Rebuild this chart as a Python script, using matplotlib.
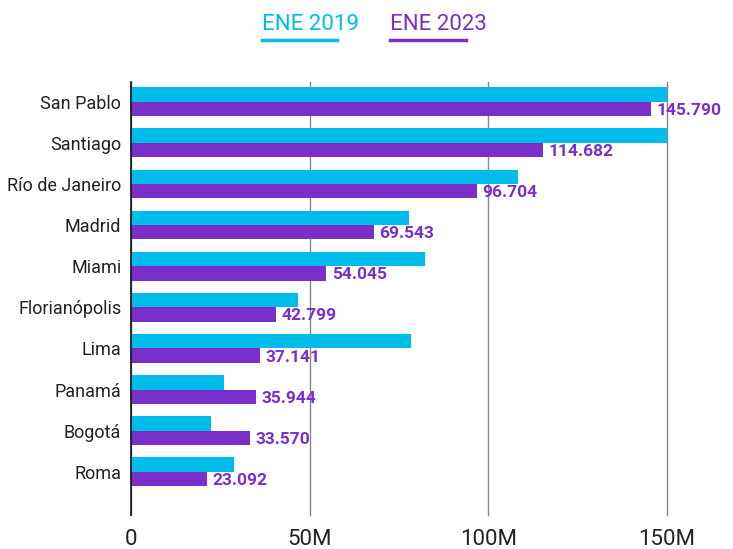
import matplotlib
matplotlib.use('Agg')
import matplotlib.pyplot as plt
from matplotlib.lines import Line2D

plt.rcParams['font.family'] = ['Roboto', 'DejaVu Sans']

cities = ['San Pablo', 'Santiago', 'Río de Janeiro', 'Madrid', 'Miami',
          'Florianópolis', 'Lima', 'Panamá', 'Bogotá', 'Roma']
# bar lengths (millions); first two run past the 150M edge
ene_2019 = [152.0, 151.0, 108.3, 77.9, 82.4, 46.8, 78.4, 25.9, 22.3, 28.8]
ene_2023 = [145.4, 115.2, 96.8, 67.9, 54.7, 40.6, 36.0, 35.0, 33.2, 21.3]
labels_2023 = ['145.790', '114.682', '96.704', '69.543', '54.045',
               '42.799', '37.141', '35.944', '33.570', '23.092']
ticks = [0, 50, 100, 150]
tick_labels = ['0', '50M', '100M', '150M']

cyan = '#00BCEA'
purple = '#7B2FC9'

fig = plt.figure(figsize=(7.33, 5.49), dpi=100)
ax = fig.add_axes([131 / 733, 34 / 549, 536 / 733, 433 / 549])

h = 0.35
y = list(range(len(cities)))
ax.barh([i - h / 2 for i in y], ene_2019, height=h, color=cyan, zorder=3)
ax.barh([i + h / 2 for i in y], ene_2023, height=h, color=purple, zorder=3)

for i, (v, lab) in enumerate(zip(ene_2023, labels_2023)):
    ax.annotate(lab, (v, i + h / 2), xytext=(4, -1), textcoords='offset points',
                va='center', ha='left', color=purple, fontsize=12.5,
                fontweight='bold', annotation_clip=False, zorder=5)

ax.set_xlim(0, 150)
ax.set_ylim(10.05, -0.48)
ax.set_yticks(y)
ax.set_yticklabels(cities, fontsize=13, color='#222222')
ax.set_xticks(ticks)
ax.set_xticklabels(tick_labels, fontsize=16, color='#222222')
ax.tick_params(axis='y', length=0, pad=7)
ax.tick_params(axis='x', length=0, pad=10)
ax.grid(axis='x', color='#888888', linewidth=1, zorder=0)
for gl in ax.get_xgridlines():
    gl.set_clip_on(False)
for s in ['top', 'right', 'bottom']:
    ax.spines[s].set_visible(False)
ax.spines['left'].set_color('#111111')
ax.spines['left'].set_linewidth(1.2)
ax.spines['left'].set_zorder(4)

# legend drawn at the top
fig.text(262 / 733, 1 - 24 / 549, 'ENE 2019', color=cyan, fontsize=16, va='center', ha='left')
fig.text(390 / 733, 1 - 24 / 549, 'ENE 2023', color=purple, fontsize=16, va='center', ha='left')
fig.add_artist(Line2D([262 / 733, 337 / 733], [1 - 40 / 549] * 2, color=cyan, linewidth=2.5))
fig.add_artist(Line2D([390 / 733, 466 / 733], [1 - 40 / 549] * 2, color=purple, linewidth=2.5))

plt.savefig('out.png', dpi=100)
plt.close()
